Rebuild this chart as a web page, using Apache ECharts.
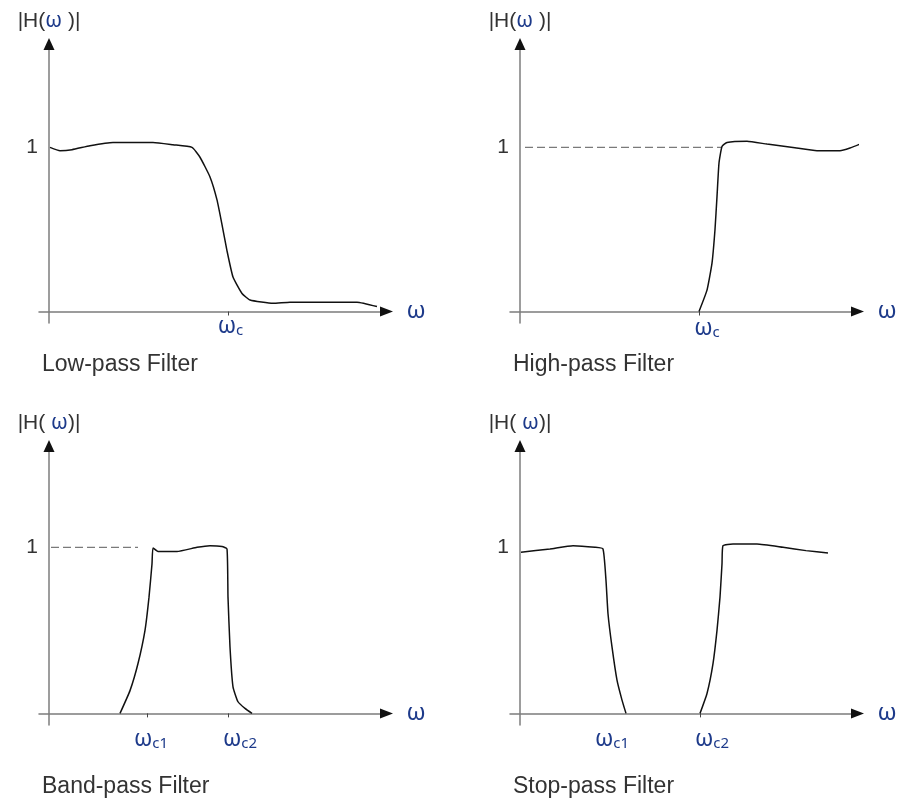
<!DOCTYPE html>
<html lang="en">
<head>
<meta charset="utf-8">
<title>Filter types</title>
<script src="https://cdn.jsdelivr.net/npm/echarts@6/dist/echarts.min.js"></script>
<style>
    html, body { margin: 0; padding: 0; background: #fff; }
    #box { width: 897px; height: 801px; }
</style>
</head>
<body>
<div id="box"></div>
<script>
    // low-pass
    var lowW = [0.1, 1.1, 2.3, 4.1, 6.4, 10.4, 12.4, 14.3, 15.1, 16.1, 16.8, 17.3, 17.8, 18.4, 19.3, 20.1, 22.4, 24.1, 30.8, 32.8];
    var lowH = [1.00, 0.98, 0.986, 1.01, 1.03, 1.03, 1.016, 1.00, 0.94, 0.82, 0.68, 0.53, 0.37, 0.21, 0.11, 0.07, 0.05, 0.057, 0.057, 0.03];
    var lowTicks = [17.9];
    var lowLabelPos = [18.15];
    var lowLabels = ['ωc'];

    // high-pass
    var highW = [17.9, 18.7, 19.2, 19.5, 19.7, 19.9, 20.2, 20.7, 22.7, 24.7, 27.3, 29.7, 32.0, 33.0, 34.0];
    var highH = [0, 0.13, 0.295, 0.50, 0.70, 0.905, 1.006, 1.03, 1.037, 1.02, 1.00, 0.98, 0.98, 0.996, 1.02];
    var highDashW = [0.5, 20.2];
    var highDashH = [1, 1];
    var highTicks = [17.9];
    var highLabelPos = [18.7];
    var highLabels = ['ωc'];

    // band-pass
    var bandW = [7.1, 8.1, 8.9, 9.6, 10.0, 10.3, 10.4, 10.9, 12.8, 14.8, 16.1, 17.3, 17.8, 17.9, 18.1, 18.4, 18.9, 19.6, 20.3];
    var bandH = [0, 0.137, 0.30, 0.50, 0.70, 0.90, 0.996, 0.975, 0.975, 1.00, 1.01, 1.005, 0.99, 0.70, 0.40, 0.16, 0.07, 0.03, 0];
    var bandDashW = [0.2, 8.9];
    var bandDashH = [1, 1];
    var bandTicks = [9.8, 17.95];
    var bandLabelPos = [10.2, 19.1];
    var bandLabels = ['ωc1', 'ωc2'];

    // stop-pass (two branches)
    var stopW1 = [0.1, 3.0, 5.3, 7.5, 8.3, 8.6, 8.8, 9.2, 9.7, 10.2, 10.6];
    var stopH1 = [0.97, 0.99, 1.01, 1.00, 0.99, 0.80, 0.60, 0.40, 0.20, 0.08, 0];
    var stopW2 = [18.0, 18.7, 19.3, 19.7, 20.0, 20.2, 20.3, 21.3, 23.7, 26.3, 28.6, 30.8];
    var stopH2 = [0, 0.12, 0.30, 0.50, 0.70, 0.90, 1.01, 1.02, 1.02, 1.00, 0.98, 0.965];
    var stopTicks = [18.0];
    var stopLabelPos = [9.2, 19.2];
    var stopLabels = ['ωc1', 'ωc2'];

    var yLabelVals = [1];

    var NAVY = '#1d3a8a';
    var GREY = '#333';

    function pairs(xs, ys) {
        return xs.map(function (x, i) { return [x, ys[i]]; });
    }

    var panels = [
        { left: 39, top: 44, yMax: 1.63, name: '|H({w|ω} )|', title: 'Low-pass Filter', tLeft: 42, tTop: 353, margin: -8,
          ticks: lowTicks, labelPos: lowLabelPos, labels: lowLabels,
          curves: [pairs(lowW, lowH)], dash: null },
        { left: 510, top: 44, yMax: 1.63, name: '|H({w|ω} )|', title: 'High-pass Filter', tLeft: 513, tTop: 353, margin: -6,
          ticks: highTicks, labelPos: highLabelPos, labels: highLabels,
          curves: [pairs(highW, highH)], dash: pairs(highDashW, highDashH) },
        { left: 39, top: 446, yMax: 1.61, name: '|H( {w|ω})|', title: 'Band-pass Filter', tLeft: 42, tTop: 775, margin: 3,
          ticks: bandTicks, labelPos: bandLabelPos, labels: bandLabels,
          curves: [pairs(bandW, bandH)], dash: pairs(bandDashW, bandDashH) },
        { left: 510, top: 446, yMax: 1.61, name: '|H( {w|ω})|', title: 'Stop-pass Filter', tLeft: 513, tTop: 775, margin: 3,
          ticks: stopTicks, labelPos: stopLabelPos, labels: stopLabels,
          curves: [pairs(stopW1, stopH1), pairs(stopW2, stopH2)], dash: null }
    ];

    var grids = [], xAxes = [], yAxes = [], series = [], titles = [];

    panels.forEach(function (p, i) {
        grids.push({ left: p.left, top: p.top, width: 347.5, height: 279, containLabel: false, outerBoundsMode: 'none' });
        titles.push({
            text: p.title, left: p.tLeft, top: p.tTop, padding: 0,
            textStyle: { fontSize: 23, fontWeight: 'normal', color: GREY, fontFamily: 'Liberation Sans, Arial, sans-serif' }
        });

        var labelPos = p.labelPos, labels = p.labels;
        // main axes: grey line, ticks, labels, names
        xAxes.push({
            type: 'value', gridIndex: i, min: -1, max: 33.75, position: 'bottom',
            name: 'ω', nameLocation: 'end', nameGap: 20,
            nameTextStyle: { fontSize: 24, color: NAVY, fontFamily: 'Noto Sans', verticalAlign: 'middle' },
            axisLine: { show: true, onZero: true, lineStyle: { color: '#7c7c7c', width: 1.5 } },
            axisTick: { show: true, customValues: p.ticks, length: 4, lineStyle: { color: '#444', width: 1 } },
            axisLabel: {
                customValues: labelPos, margin: p.margin,
                formatter: function (v) {
                    var t = labels[labelPos.indexOf(v)] || '';
                    return '{w|' + t.charAt(0) + '}{s|' + t.slice(1) + '}';
                },
                rich: {
                    w: { fontSize: 23, color: NAVY, fontFamily: 'Noto Sans', verticalAlign: 'bottom' },
                    s: { fontSize: 15, color: NAVY, fontFamily: 'Noto Sans', verticalAlign: 'bottom' }
                }
            },
            splitLine: { show: false }
        });
        // arrow-only axis (black head, invisible line)
        xAxes.push({
            type: 'value', gridIndex: i, min: -1, max: 33.75, position: 'top',
            axisLine: { show: true, onZero: true, symbol: ['none', 'triangle'], symbolSize: [10, 13],
                        lineStyle: { color: '#111', width: 1, type: [0, 100000], cap: 'butt' } },
            axisTick: { show: false }, axisLabel: { show: false }, splitLine: { show: false }
        });

        yAxes.push({
            type: 'value', gridIndex: i, min: -0.07, max: p.yMax, position: 'left',
            name: p.name, nameLocation: 'end', nameGap: 12,
            nameTextStyle: {
                fontSize: 21, color: GREY, fontFamily: 'Liberation Sans, Arial, sans-serif', align: 'center',
                rich: { w: { fontSize: 21, color: NAVY, fontFamily: 'Noto Sans' } }
            },
            axisLine: { show: true, onZero: true, lineStyle: { color: '#7c7c7c', width: 1.5 } },
            axisTick: { show: false },
            axisLabel: {
                customValues: yLabelVals, margin: 1, fontSize: 21, color: GREY,
                fontFamily: 'Liberation Sans, Arial, sans-serif',
                formatter: function (v) { return String(v); }
            },
            splitLine: { show: false }
        });
        yAxes.push({
            type: 'value', gridIndex: i, min: -0.07, max: p.yMax, position: 'right',
            axisLine: { show: true, onZero: true, symbol: ['none', 'triangle'], symbolSize: [11, 12],
                        lineStyle: { color: '#111', width: 1, type: [0, 100000], cap: 'butt' } },
            axisTick: { show: false }, axisLabel: { show: false }, splitLine: { show: false }
        });

        p.curves.forEach(function (c) {
            series.push({
                type: 'line', xAxisIndex: 2 * i, yAxisIndex: 2 * i, data: c,
                showSymbol: false, smooth: 0.15, clip: false, silent: true,
                lineStyle: { color: '#111', width: 1.5 }, z: 5
            });
        });
        if (p.dash) {
            series.push({
                type: 'line', xAxisIndex: 2 * i, yAxisIndex: 2 * i, data: p.dash,
                showSymbol: false, silent: true,
                lineStyle: { color: '#7a7a7a', width: 1.3, type: [8, 4] }, z: 4
            });
        }
    });

    var myChart = echarts.init(document.getElementById('box'), null, { renderer: 'canvas' });
    myChart.setOption({
        animation: false,
        backgroundColor: '#fff',
        textStyle: { fontFamily: 'Liberation Sans, Arial, sans-serif' },
        title: titles,
        grid: grids,
        xAxis: xAxes,
        yAxis: yAxes,
        series: series
    });
</script>
</body>
</html>
